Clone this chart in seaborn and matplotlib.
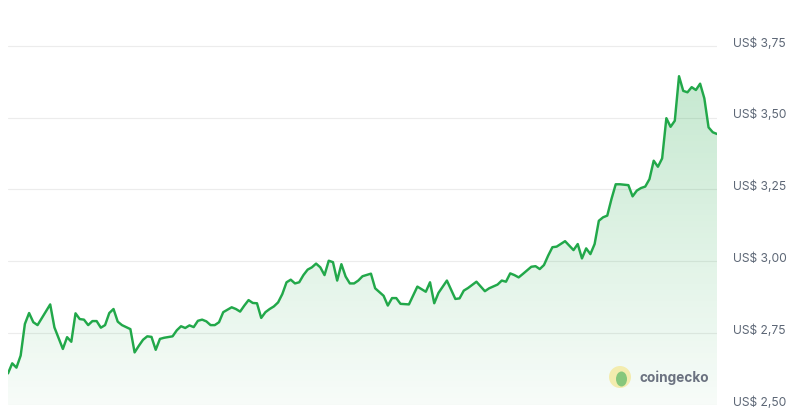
import numpy as np
import pandas as pd
import matplotlib
matplotlib.use("Agg")
import matplotlib.pyplot as plt
import seaborn as sns
from matplotlib.colors import LinearSegmentedColormap
from matplotlib.transforms import ScaledTranslation
from matplotlib.patches import Ellipse

# ---- data (hour index over 7 days, price in US$) ----
hours = [0, 1, 2, 3, 4, 5, 6, 7, 10, 11, 13, 14, 15, 16, 17, 18, 19, 20, 21, 22,
         23, 24, 25, 26, 27, 29, 30, 31, 32, 33, 34, 35, 36, 37, 39, 40, 41, 42, 43, 44,
         45, 46, 47, 48, 49, 50, 51, 53, 54, 55, 56, 57, 58, 59, 60, 61, 62, 63, 64, 65,
         66, 67, 68, 69, 70, 71, 72, 73, 74, 75, 76, 77, 78, 79, 80, 81, 82, 83, 84, 86,
         87, 89, 90, 91, 92, 93, 95, 97, 99, 100, 101, 102, 104, 106, 107, 108, 109, 111, 113, 114,
         116, 117, 118, 119, 120, 121, 122, 124, 125, 126, 127, 128, 129, 130, 132, 134, 135, 136, 137, 138,
         139, 140, 141, 142, 143, 144, 145, 147, 148, 149, 150, 151, 152, 153, 154, 155, 156, 157, 158, 159,
         160, 161, 162, 163, 164, 165, 166, 167, 168]
prices = [2.610, 2.645, 2.630, 2.672, 2.782, 2.820, 2.788, 2.778, 2.850, 2.770, 2.695, 2.736, 2.720, 2.819, 2.799, 2.797, 2.778, 2.792, 2.792, 2.769,
          2.778, 2.820, 2.834, 2.790, 2.778, 2.764, 2.683, 2.706, 2.727, 2.739, 2.737, 2.692, 2.730, 2.734, 2.739, 2.760, 2.774, 2.768, 2.777, 2.771,
          2.793, 2.797, 2.791, 2.778, 2.778, 2.788, 2.823, 2.840, 2.834, 2.825, 2.846, 2.865, 2.855, 2.854, 2.803, 2.823, 2.834, 2.843, 2.857, 2.886,
          2.927, 2.936, 2.923, 2.927, 2.952, 2.971, 2.979, 2.992, 2.979, 2.952, 3.002, 2.997, 2.933, 2.990, 2.947, 2.923, 2.923, 2.933, 2.948, 2.957,
          2.906, 2.880, 2.846, 2.872, 2.872, 2.852, 2.850, 2.912, 2.894, 2.927, 2.854, 2.890, 2.933, 2.869, 2.871, 2.898, 2.907, 2.929, 2.896, 2.906,
          2.919, 2.933, 2.929, 2.958, 2.952, 2.944, 2.956, 2.981, 2.983, 2.973, 2.987, 3.020, 3.049, 3.051, 3.070, 3.039, 3.060, 3.010, 3.045, 3.025,
          3.060, 3.141, 3.153, 3.159, 3.217, 3.268, 3.268, 3.265, 3.226, 3.246, 3.255, 3.260, 3.286, 3.350, 3.329, 3.358, 3.498, 3.468, 3.489, 3.644,
          3.593, 3.588, 3.606, 3.596, 3.618, 3.567, 3.466, 3.449, 3.443]
y_ticks = [2.50, 2.75, 3.00, 3.25, 3.50, 3.75]
y_tick_labels = ["US$ 2,50", "US$ 2,75", "US$ 3,00", "US$ 3,25", "US$ 3,50", "US$ 3,75"]

df = pd.DataFrame({"hour": hours, "price": prices})

GREEN = "#22a84a"
LABEL_COLOR = "#5d6776"

sns.set_theme(style="white")
plt.rcParams["font.family"] = ["Inter", "DejaVu Sans"]

fig = plt.figure(figsize=(7.91, 4.14), dpi=100)
ax = fig.add_axes([8 / 791, 8 / 414, (717 - 8) / 791, (404 - 8) / 414])

x_min, x_max = 0, 168
y_min, y_max = 2.5, 2.5 + 396 / 287.4
ax.set_xlim(x_min, x_max)
ax.set_ylim(y_min, y_max)

# gradient area fill
top_val = max(prices)
cmap = LinearSegmentedColormap.from_list(
    "g", [(0.133, 0.66, 0.29, 0.035), (0.133, 0.66, 0.29, 0.26)])
grad = np.linspace(0, 1, 256).reshape(-1, 1)
im = ax.imshow(grad, cmap=cmap, aspect="auto", origin="lower",
               extent=[x_min, x_max, y_min, top_val], zorder=1, interpolation="bilinear")
poly = ax.fill_between(df["hour"], df["price"], y_min, color="none", lw=0, zorder=1)
clip = poly.get_paths()[0]
im.set_clip_path(clip, transform=ax.transData)

sns.lineplot(data=df, x="hour", y="price", ax=ax, color=GREEN, linewidth=1.75, zorder=3)

# grid & axis styling
ax.set_yticks(y_ticks)
ax.set_yticklabels(y_tick_labels)
ax.yaxis.tick_right()
ax.tick_params(axis="y", length=0, pad=11.5, labelsize=8.7, labelcolor=LABEL_COLOR)
ax.set_xticks([])
for lab in ax.get_yticklabels():
    lab.set_transform(lab.get_transform() + ScaledTranslation(0, 3.5 / 72, fig.dpi_scale_trans))
ax.grid(axis="y", color="#ececec", linewidth=0.8, zorder=0)
ax.set_axisbelow(True)
for s in ax.spines.values():
    s.set_visible(False)
ax.set_xlabel("")
ax.set_ylabel("")

# coingecko watermark
logo = Ellipse((620 / 791, 1 - 378 / 414), 22 / 791, 22 / 414, transform=fig.transFigure,
               facecolor="#f3ecae", edgecolor="none", zorder=5)
fig.patches.append(logo)
gecko = Ellipse((621.5 / 791, 1 - 380 / 414), 11 / 791, 15 / 414, transform=fig.transFigure,
                facecolor="#86c77c", edgecolor="none", zorder=6)
fig.patches.append(gecko)
fig.text(639 / 791, 1 - 378 / 414, "coingecko", fontsize=9.8, fontweight="bold",
         color="#6b7280", va="center", ha="left")

fig.savefig("out.png", dpi=100, facecolor="white")
